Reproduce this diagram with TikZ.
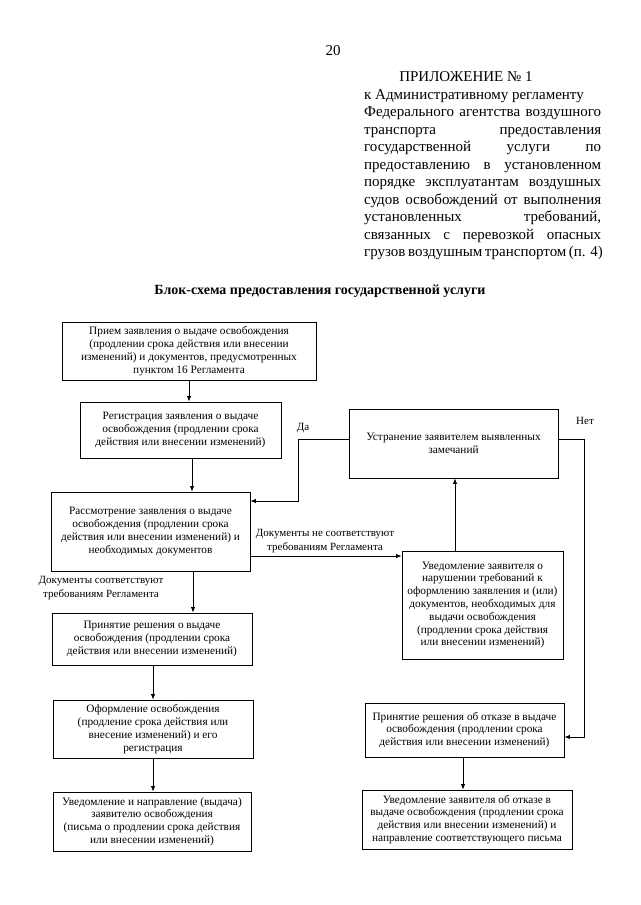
\documentclass[tikz,border=0pt]{standalone}
\usepackage{fontspec}
\setmainfont{Liberation Serif}
\usetikzlibrary{arrows.meta,calc}
\newcommand\boxfont{\fontsize{11.3}{12.8}\selectfont}
\newcommand\hdrfont{\fontsize{15}{17.5}\selectfont}
\newcommand\lblfont{\fontsize{11}{13.5}\selectfont}
\begin{document}
\begin{tikzpicture}[x=1pt,y=-1pt,
  box/.style={draw, line width=0.85pt, align=center, inner sep=1pt, font=\boxfont},
  hdr/.style={anchor=base west, inner sep=0pt, font=\hdrfont},
  lbl/.style={align=center, inner sep=0pt, font=\lblfont},
  arr/.style={line width=0.85pt, -{Latex[length=5.5pt,width=4.5pt]}}]
\useasboundingbox (0,0) rectangle (640,905);
\fill[white] (0,0) rectangle (640,905);
% header
\node[anchor=base, inner sep=0pt, font=\hdrfont] (pg) at (333,55) {20};
\node[anchor=base, inner sep=0pt, font=\hdrfont] (app) at (466,81) {ПРИЛОЖЕНИЕ № 1};
\node[hdr] (h1) at (364,99) {к Административному регламенту};
\node[hdr] (h2) at (364,116.5) {\makebox[237pt][s]{Федерального агентства воздушного}};
\node[hdr] (h3) at (364,134) {\makebox[237pt][s]{транспорта предоставления}};
\node[hdr] (h4) at (364,151.5) {\makebox[237pt][s]{государственной услуги по}};
\node[hdr] (h5) at (364,169) {\makebox[237pt][s]{предоставлению в установленном}};
\node[hdr] (h6) at (364,186.5) {\makebox[237pt][s]{порядке эксплуатантам воздушных}};
\node[hdr] (h7) at (364,204) {\makebox[237pt][s]{судов освобождений от выполнения}};
\node[hdr] (h8) at (364,221.5) {\makebox[237pt][s]{установленных требований,}};
\node[hdr] (h9) at (364,239) {\makebox[237pt][s]{связанных с перевозкой опасных}};
\node[hdr] (h10) at (364,256.5) {\makebox[237pt][s]{грузов воздушным транспортом (п. 4)}};
\node[anchor=base, inner sep=0pt, font=\fontsize{14}{17}\selectfont\bfseries] (title) at (320,294) {Блок-схема предоставления государственной услуги};
% left column
\node[box, minimum width=254pt, minimum height=58pt] (B1) at (189,351)
  {Прием заявления о выдаче освобождения\\(продлении срока действия или внесении\\изменений) и документов, предусмотренных\\пунктом 16 Регламента};
\node[box, minimum width=201pt, minimum height=56pt] (B2) at (180.5,430)
  {Регистрация заявления о выдаче\\освобождения (продлении срока\\действия или внесении изменений)};
\node[box, minimum width=199pt, minimum height=79pt] (B3) at (150.5,531.5)
  {Рассмотрение заявления о выдаче\\освобождения (продлении срока\\действия или внесении изменений) и\\необходимых документов};
\node[box, minimum width=200pt, minimum height=52pt] (B4) at (152,639)
  {Принятие решения о выдаче\\освобождения (продлении срока\\действия или внесении изменений)};
\node[box, minimum width=200pt, minimum height=58pt] (B5) at (153,729)
  {Оформление освобождения\\(продление срока действия или\\внесение изменений) и его\\регистрация};
\node[box, minimum width=198pt, minimum height=59pt] (B6) at (152,821.5)
  {Уведомление и направление (выдача)\\заявителю освобождения\\(письма о продлении срока действия\\или внесении изменений)};
% right column
\node[box, minimum width=209pt, minimum height=69pt] (R1) at (453.5,443.5)
  {Устранение заявителем выявленных\\замечаний};
\node[box, minimum width=161pt, minimum height=108pt] (R2) at (482.5,605)
  {Уведомление заявителя о\\нарушении требований к\\оформлению заявления и (или)\\документов, необходимых для\\выдачи освобождения\\(продлении срока действия\\или внесении изменений)};
\node[box, minimum width=199pt, minimum height=54pt] (R3) at (464.5,730)
  {Принятие решения об отказе в выдаче\\освобождения (продлении срока\\действия или внесении изменений)};
\node[box, minimum width=210pt, minimum height=59pt] (R4) at (467,819.5)
  {Уведомление заявителя об отказе в\\выдаче освобождения (продлении срока\\действия или внесении изменений) и\\направление соответствующего письма};
% labels
\node[lbl] (L1) at (101,588) {Документы соответствуют\\требованиям Регламента};
\node[lbl] (L2) at (325,541) {Документы не соответствуют\\требованиям Регламента};
\node[lbl] (L3) at (303,428) {Да};
\node[lbl] (L4) at (585,421) {Нет};
% connectors
\draw[arr] (B1.south) -- (B1.south |- B2.north);
\draw[arr] ([xshift=11.5pt]B2.south) -- ([xshift=11.5pt]B2.south |- B3.north);
\draw[arr] ([xshift=42.5pt]B3.south) -- ([xshift=42.5pt]B3.south |- B4.north);
\draw[arr] ([xshift=1pt]B4.south) -- ([xshift=1pt]B4.south |- B5.north);
\draw[arr] (B5.south) -- (B5.south |- B6.north);
\draw[arr] ([yshift=-24.5pt]B3.east) -- ([yshift=-24.5pt]B3.east -| R2.west);
\draw[arr] ([xshift=-27.5pt]R2.north) -- ([xshift=-27.5pt]R2.north |- R1.south);
\draw[arr] ([yshift=4.5pt]R1.west) -- ++(-50,0) |- ([yshift=30.5pt]B3.east);
\draw[arr] ([yshift=4.5pt]R1.east) -- ++(26,0) |- ([yshift=-7pt]R3.east);
\draw[arr] ([xshift=-1.5pt]R3.south) -- ([xshift=-1.5pt]R3.south |- R4.north);
\end{tikzpicture}
\end{document}
